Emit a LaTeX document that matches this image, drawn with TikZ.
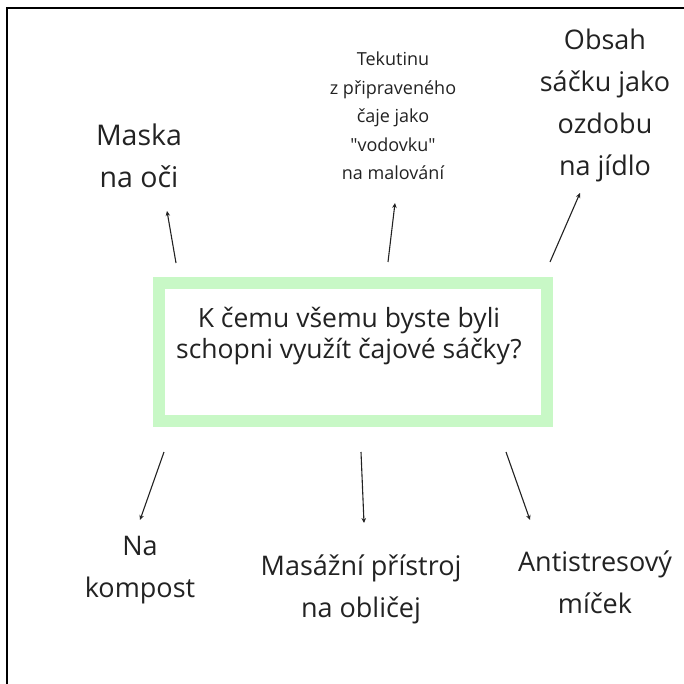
\documentclass[tikz,border=0pt]{standalone}
\usepackage{fontspec}
\setmainfont{Open Sans}[Ligatures=TeXOff]
\usetikzlibrary{arrows.meta}
\definecolor{minze}{RGB}{200,248,198}
\definecolor{tinte}{RGB}{34,34,34}
\tikzset{
  gross/.style={align=center, inner sep=0pt, text=tinte, font=\fontsize{27}{42}\selectfont},
  klein/.style={align=center, inner sep=0pt, text=tinte, font=\fontsize{18}{28.5}\selectfont},
  pfeil/.style={line width=1.1pt, tinte, -{Stealth[length=5pt,width=4.5pt]}},
}
\begin{document}
\begin{tikzpicture}[x=1pt,y=-1pt]
    % 0. 画布大小 (像素坐标, y 向下)
    \useasboundingbox (0,0) rectangle (684,684);
    
    % 1. 外框 (只露出上边和左边)
    \draw[line width=2pt] (7,684) -- (7,8) -- (684,8);
    
    % 2. 中间的绿色方框和问题
    \draw[minze, line width=12pt] (159,282.5) rectangle (547,420.5);
    \node[gross, font=\fontsize{26.5}{31}\selectfont] (frage) at (349,336)
        {K čemu všemu byste byli\\schopni využít čajové sáčky?};
    
    % 3. 上面三个答案
    \node[gross, font=\fontsize{28.5}{42}\selectfont] (maska) at (139,156) {Maska\\na oči};
    \node[klein] (tekutina) at (393,116)
        {Tekutinu\\z připraveného\\čaje jako\\"vodovku"\\na malování};
    \node[gross] (obsah) at (605,105) {Obsah\\sáčku jako\\ozdobu\\na jídlo};
    
    % 4. 下面三个答案
    \node[gross] (kompost) at (140,570) {Na\\kompost};
    \node[gross] (masaz) at (361,589) {Masážní přístroj\\na obličej};
    \node[gross] (micek) at (595,582) {Antistresový\\míček};
    
    % 5. 箭头的起点和终点
    \coordinate (m1) at (176,263); \coordinate (m2) at (167,211);
    \coordinate (t1) at (388,262); \coordinate (t2) at (395,203);
    \coordinate (o1) at (550,262); \coordinate (o2) at (580,193);
    \coordinate (k1) at (164,452); \coordinate (k2) at (140,520);
    \coordinate (p1) at (361,452); \coordinate (p2) at (364,523);
    \coordinate (a1) at (506,452); \coordinate (a2) at (530,520);
    
    \foreach \s/\e in {m1/m2, t1/t2, o1/o2, k1/k2, p1/p2, a1/a2}
        \draw[pfeil] (\s) -- (\e);
    
\end{tikzpicture}
\end{document}
